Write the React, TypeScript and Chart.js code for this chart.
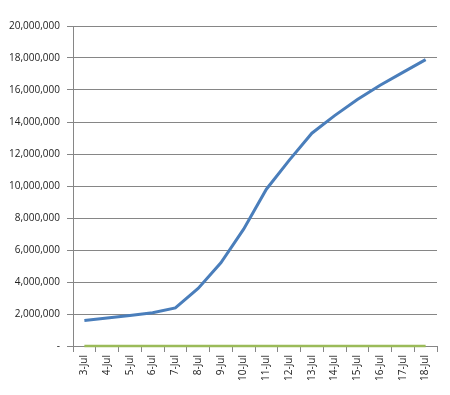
import React, { useEffect, useRef } from "react";
import { Chart, registerables } from "chart.js";

Chart.register(...registerables);

const categories = ["3-Jul","4-Jul","5-Jul","6-Jul","7-Jul","8-Jul","9-Jul","10-Jul","11-Jul","12-Jul","13-Jul","14-Jul","15-Jul","16-Jul","17-Jul","18-Jul"];
const seriesA = [1600000,1750000,1900000,2080000,2380000,3600000,5200000,7300000,9800000,11600000,13300000,14400000,15400000,16300000,17100000,17900000];
const seriesB = [0,0,0,0,0,0,0,0,0,0,0,0,0,0,0,0];
const yMax = 20000000;
const yStep = 2000000;

export default function App() {
  const ref = useRef<HTMLCanvasElement | null>(null);
  useEffect(() => {
    if (!ref.current) return;
    const font = { family: "'Open Sans', 'Liberation Sans', sans-serif", size: 10 };
    const chart = new Chart(ref.current, {
      type: "line",
      data: {
        labels: categories,
        datasets: [
          { data: seriesA, borderColor: "#4A7EBB", borderWidth: 3, pointRadius: 0, tension: 0, fill: false },
          { data: seriesB, borderColor: "#9BBB59", borderWidth: 2.5, pointRadius: 0, tension: 0, fill: false, clip: false },
        ],
      },
      options: {
        animation: false,
        responsive: true,
        maintainAspectRatio: false,
        layout: { padding: { top: 26, right: 13, left: 0, bottom: 0 } },
        plugins: { legend: { display: false }, tooltip: { enabled: false } },
        scales: {
          x: {
            type: "category",
            offset: true,
            grid: { offset: true, drawOnChartArea: false, drawTicks: true, tickLength: 6, color: "#868686" },
            border: { display: true, color: "#868686" },
            ticks: { font, color: "#222", maxRotation: 90, minRotation: 90, padding: 3, autoSkip: false },
            afterFit: (s: any) => { s.height = 49; },
          },
          y: {
            min: 0,
            max: yMax,
            grid: { color: "#868686", tickLength: 6 },
            border: { display: true, color: "#868686" },
            ticks: {
              stepSize: yStep,
              font,
              color: "#222",
              padding: 7,
              callback: (v: any) => (Number(v) === 0 ? "-" : Number(v).toLocaleString("en-US")),
            },
            afterFit: (s: any) => { s.width = 73; },
          },
        },
      },
    });
    return () => chart.destroy();
  }, []);
  return (
    <div style={{ position: "fixed", left: 0, top: 0, width: 450, height: 395, background: "#fff" }}>
      <canvas ref={ref} />
    </div>
  );
}
